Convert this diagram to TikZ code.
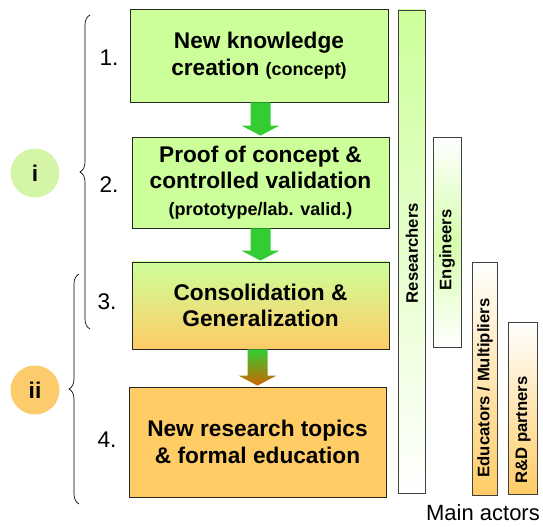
\documentclass[tikz,border=0pt]{standalone}
\usepackage{fontspec}
\setmainfont{Liberation Sans}
\usepackage{tikz}
\usetikzlibrary{calc,backgrounds,decorations.pathreplacing}
\definecolor{stagegreen}{HTML}{CCFF99}
\definecolor{stageorange}{HTML}{FFCC66}
\definecolor{arrowgreen}{HTML}{33CC33}
\definecolor{arrowbrown}{HTML}{CC6600}
\definecolor{phasegreen}{HTML}{D4F5A8}
\definecolor{phaseorange}{HTML}{FCCB6C}
\tikzstyle{flow}=[
  x=0.75pt,y=-0.75pt
]
\tikzstyle{stage}=[
  draw=black!85,line width=0.6pt,align=center,inner sep=2pt,font=\fontsize{17}{20}\selectfont\bfseries
]
\tikzstyle{stagenum}=[
  font=\fontsize{17}{20}\selectfont
]
\tikzstyle{phase}=[
  circle,minimum size=36.75pt,inner sep=0pt,font=\fontsize{17}{20}\selectfont\bfseries
]
\tikzstyle{actor}=[
  draw=black!75,line width=0.5pt,inner sep=0pt
]
\tikzstyle{actorname}=[
  rotate=90,inner sep=1pt,font=\fontsize{12.5}{14}\selectfont\bfseries
]
\tikzstyle{grouping}=[
  decorate,decoration={brace,amplitude=7.5pt},line width=0.5pt
]
\newcommand{\note}[1]{{\fontsize{13.5}{16}\selectfont #1}}
\newcommand{\stagearrow}[3]{%
  \path[#3] ($(#1.south -| #2.north)+(-10,0)$) -- ($(#2.north)+(-10,-11)$)
    -- ($(#2.north)+(-19,-11)$) -- ($(#2.north)+(0,-1)$) -- ($(#2.north)+(19,-11)$)
    -- ($(#2.north)+(10,-11)$) -- ($(#1.south -| #2.north)+(10,0)$) -- cycle;}

\begin{document}
\begin{tikzpicture}[flow]
  \useasboundingbox (0,0) rectangle (543,527);

  % stages
  \node (s1) at (259,55.5) [stage,fill=stagegreen,minimum width=193.5pt,minimum height=69.75pt]
    {New knowledge\\creation \note{(concept)}};
  \node (s2) at (260.5,182.5) [stage,fill=stagegreen,minimum width=192.75pt,minimum height=68.25pt]
    {Proof of concept \&\\controlled validation\\\note{(prototype/lab. valid.)}};
  \node (s3) at (260.5,305.5) [stage,top color=stagegreen,bottom color=stageorange,minimum width=192.75pt,minimum height=65.25pt]
    {Consolidation \&\\Generalization};
  \node (s4) at (257.5,442) [stage,fill=stageorange,minimum width=192.75pt,minimum height=82.5pt]
    {New research topics\\\& formal education};

  \node (n1) at (109,57.5) [stagenum] {1.};
  \node (n2) at (109,185) [stagenum] {2.};
  \node (n3) at (107,302) [stagenum] {3.};
  \node (n4) at (107,440) [stagenum] {4.};

  \stagearrow{s1}{s2}{fill=arrowgreen}
  \stagearrow{s2}{s3}{fill=arrowgreen}
  \stagearrow{s3}{s4}{top color=arrowgreen,bottom color=arrowbrown}

  % phases
  \node (p1) at (35,173) [phase,fill=phasegreen] {i};
  \node (p2) at (35,390) [phase,fill=phaseorange] {ii};
  \coordinate (b1top) at (90,15);
  \coordinate (b1bot) at (90,329);
  \coordinate (b2top) at (79,274);
  \coordinate (b2bot) at (79,504);
  \draw [grouping] (b1bot) -- (b1top);
  \draw [grouping] (b2bot) -- (b2top);

  % actors
  \node (researchers) at (411.5,251.5) [actor,top color=stagegreen,bottom color=white,minimum width=20.25pt,minimum height=362.25pt] {};
  \node (engineers) at (447,242) [actor,top color=white,bottom color=white,middle color=stagegreen!80,minimum width=21pt,minimum height=157.5pt] {};
  \node (educators) at (484.5,378.5) [actor,top color=white,bottom color=stageorange,minimum width=18.75pt,minimum height=174.75pt] {};
  \node (partners) at (522.5,408) [actor,top color=white,bottom color=stageorange,minimum width=21.75pt,minimum height=129pt] {};
  \node at (412,253) [actorname] {Researchers};
  \node at (447,250) [actorname] {Engineers};
  \node at (485,388) [actorname] {Educators / Multipliers};
  \node at (523,430) [actorname] {R\&D partners};
  \node (actors) at (483,513) [font=\fontsize{16.5}{19}\selectfont] {Main actors};
\end{tikzpicture}
\end{document}
